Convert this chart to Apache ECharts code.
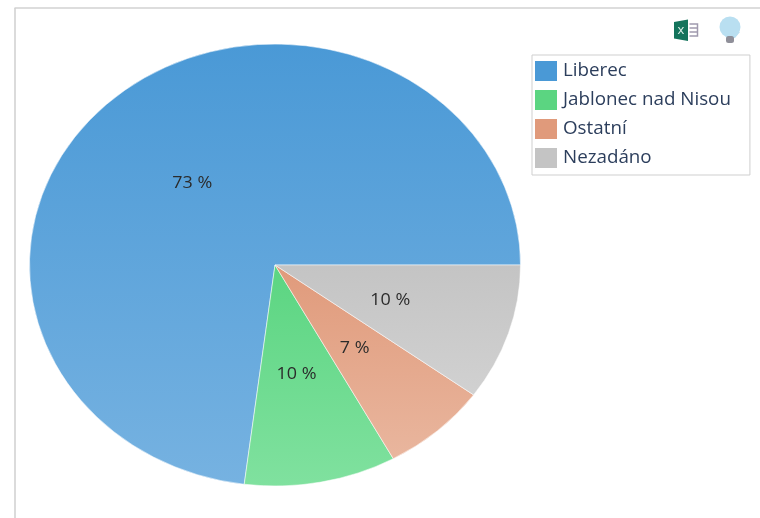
<!DOCTYPE html>
<html>
<head>
<meta charset="utf-8">
<style>html,body{margin:0;padding:0;background:#fff}#c{width:760px;height:518px}</style>
<script src="https://cdn.jsdelivr.net/npm/echarts@6/dist/echarts.min.js"></script>
</head>
<body>
<div id="c"></div>
<script>
const categories = ['Liberec', 'Jablonec nad Nisou', 'Ostatní', 'Nezadáno'];
const percents = [73, 10, 7, 10];
const topColors = ['#4a99d6', '#5bd581', '#e09a7b', '#c4c4c4'];
const bottomColors = ['#76b2e1', '#80e19f', '#e9b69e', '#d1d1d1'];
const labelSuffix = ' %';

const FONT = '"Open Sans", sans-serif';
const CX = 275, CY = 265, RX = 245.5, RY = 221;
const total = percents.reduce((a, b) => a + b, 0);

function renderSlice(i) {
  return function () {
    const before = percents.slice(0, i).reduce((a, b) => a + b, 0);
    const a0 = before / total * Math.PI * 2;
    const a1 = (before + percents[i]) / total * Math.PI * 2;
    const mid = (a0 + a1) / 2;
    return {
      type: 'group',
      x: CX, y: CY,
      children: [
        {
          type: 'sector',
          scaleY: RY / RX,
          shape: { cx: 0, cy: 0, r0: 0, r: RX, startAngle: -a1, endAngle: -a0, clockwise: true },
          style: {
            fill: new echarts.graphic.LinearGradient(0, 0, 0, 1, [
              { offset: 0, color: topColors[i] },
              { offset: 1, color: bottomColors[i] }
            ]),
            stroke: 'rgba(255,255,255,0.55)',
            lineWidth: 1
          }
        },
        {
          type: 'text',
          z2: 10,
          x: Math.cos(mid) * RX * 0.5 - 1.5,
          y: -Math.sin(mid) * RY * 0.5 + 1,
          scaleX: 1.12,
          style: {
            x: 0,
            y: 0,
            text: percents[i] + labelSuffix,
            fill: '#2b2b2b',
            font: '16px ' + FONT,
            align: 'center',
            verticalAlign: 'middle'
          }
        }
      ]
    };
  };
}

const chart = echarts.init(document.getElementById('c'), null, { renderer: 'canvas' });
chart.setOption({
  animation: false,
  backgroundColor: '#fff',
  color: topColors,
  legend: {
    orient: 'vertical',
    left: 532,
    top: 55,
    data: categories,
    icon: 'rect',
    itemWidth: 22,
    itemHeight: 20,
    itemGap: 9,
    padding: [6, 19, 7, 3],
    borderColor: '#cfcfcf',
    borderWidth: 1,
    selectedMode: false,
    textStyle: { fontFamily: FONT, fontSize: 18.8, color: '#2c3e5c', padding: [0, 0, 0, 1] }
  },
  series: categories.map((name, i) => ({
    type: 'custom',
    name,
    coordinateSystem: 'none',
    silent: true,
    data: [[percents[i]]],
    renderItem: renderSlice(i)
  })),
  graphic: [
    // page frame
    { type: 'line', silent: true, shape: { x1: 14.5, y1: 8, x2: 760, y2: 8 }, style: { stroke: '#d2d2d2', lineWidth: 1.5 } },
    { type: 'line', silent: true, shape: { x1: 15, y1: 8, x2: 15, y2: 518 }, style: { stroke: '#cfcfcf', lineWidth: 1.5 } },
    // excel icon
    { type: 'polygon', silent: true, shape: { points: [[674, 22], [688, 19.5], [688, 41], [674, 38.5]] }, style: { fill: '#14745c' } },
    { type: 'text', silent: true, style: { x: 681, y: 30, text: 'x', fill: '#dff2ec', font: '13px ' + FONT, align: 'center', verticalAlign: 'middle' } },
    { type: 'polyline', silent: true, shape: { points: [[689.5, 24], [697.5, 24], [697.5, 36], [689.5, 36]] }, style: { stroke: '#a09aae', lineWidth: 1.5, fill: null } },
    { type: 'line', silent: true, shape: { x1: 689.5, y1: 28, x2: 697.5, y2: 28 }, style: { stroke: '#a09aae', lineWidth: 1.5 } },
    { type: 'line', silent: true, shape: { x1: 689.5, y1: 32, x2: 697.5, y2: 32 }, style: { stroke: '#a09aae', lineWidth: 1.5 } },
    // light bulb
    { type: 'polygon', silent: true, shape: { points: [[722, 32], [740, 32], [735, 38], [727, 38]] }, style: { fill: '#b9dff1' } },
    { type: 'circle', silent: true, shape: { cx: 730, cy: 27, r: 10.5 }, style: { fill: '#b9dff1' } },
    { type: 'rect', silent: true, shape: { x: 726, y: 36, width: 8, height: 7, r: 2.5 }, style: { fill: '#8f8f99' } }
  ]
});
</script>
</body>
</html>
